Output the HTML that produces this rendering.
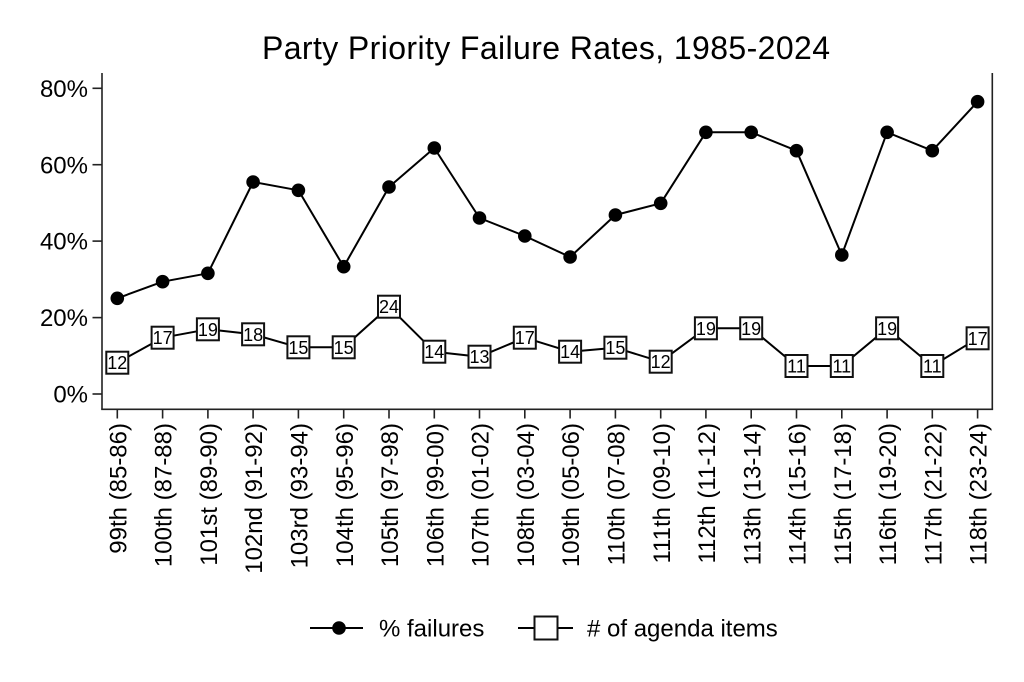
<!DOCTYPE html>
<html>
<head>
<meta charset="utf-8">
<style>
  html, body { margin: 0; padding: 0; background: #ffffff; }
  svg { display: block; }
  text { font-family: "Liberation Sans", Arial, sans-serif; fill: #000; }
</style>
</head>
<body>
<svg width="1024" height="682" viewBox="0 0 1024 682" xmlns="http://www.w3.org/2000/svg">
  <rect width="1024" height="682" fill="#ffffff"/>

  <!-- Title -->
  <text x="546" y="59" font-size="32" text-anchor="middle" textLength="568" lengthAdjust="spacing">Party Priority Failure Rates, 1985-2024</text>

  <!-- Axes frame (no top line) -->
  <g stroke="#222" stroke-width="1.6" fill="none">
    <line x1="102" y1="73" x2="102" y2="409.5"/>
    <line x1="992.3" y1="73" x2="992.3" y2="409.5"/>
    <line x1="101.2" y1="409.3" x2="993.1" y2="409.3"/>
  </g>

  <!-- Y ticks -->
  <g stroke="#222" stroke-width="1.6">
    <line x1="92.5" y1="88.3" x2="102" y2="88.3"/>
    <line x1="92.5" y1="164.7" x2="102" y2="164.7"/>
    <line x1="92.5" y1="241.1" x2="102" y2="241.1"/>
    <line x1="92.5" y1="317.6" x2="102" y2="317.6"/>
    <line x1="92.5" y1="394" x2="102" y2="394"/>
  </g>
  <g font-size="24" text-anchor="end">
    <text x="88" y="88.3" dy="0.36em">80%</text>
    <text x="88" y="164.7" dy="0.36em">60%</text>
    <text x="88" y="241.1" dy="0.36em">40%</text>
    <text x="88" y="317.6" dy="0.36em">20%</text>
    <text x="88" y="394" dy="0.36em">0%</text>
  </g>

  <!-- X ticks -->
  <g stroke="#222" stroke-width="1.6">
    <line x1="117.3" y1="409" x2="117.3" y2="418.5"/>
    <line x1="162.6" y1="409" x2="162.6" y2="418.5"/>
    <line x1="207.9" y1="409" x2="207.9" y2="418.5"/>
    <line x1="253.1" y1="409" x2="253.1" y2="418.5"/>
    <line x1="298.4" y1="409" x2="298.4" y2="418.5"/>
    <line x1="343.7" y1="409" x2="343.7" y2="418.5"/>
    <line x1="389.0" y1="409" x2="389.0" y2="418.5"/>
    <line x1="434.3" y1="409" x2="434.3" y2="418.5"/>
    <line x1="479.5" y1="409" x2="479.5" y2="418.5"/>
    <line x1="524.8" y1="409" x2="524.8" y2="418.5"/>
    <line x1="570.1" y1="409" x2="570.1" y2="418.5"/>
    <line x1="615.4" y1="409" x2="615.4" y2="418.5"/>
    <line x1="660.7" y1="409" x2="660.7" y2="418.5"/>
    <line x1="705.9" y1="409" x2="705.9" y2="418.5"/>
    <line x1="751.2" y1="409" x2="751.2" y2="418.5"/>
    <line x1="796.5" y1="409" x2="796.5" y2="418.5"/>
    <line x1="841.8" y1="409" x2="841.8" y2="418.5"/>
    <line x1="887.1" y1="409" x2="887.1" y2="418.5"/>
    <line x1="932.3" y1="409" x2="932.3" y2="418.5"/>
    <line x1="977.6" y1="409" x2="977.6" y2="418.5"/>
  </g>

  <!-- X labels (rotated) -->
  <g font-size="24" text-anchor="end">
    <text transform="translate(117.3,423) rotate(-90)" dy="0.38em">99th (85-86)</text>
    <text transform="translate(162.6,423) rotate(-90)" dy="0.38em">100th (87-88)</text>
    <text transform="translate(207.9,423) rotate(-90)" dy="0.38em">101st (89-90)</text>
    <text transform="translate(253.1,423) rotate(-90)" dy="0.38em">102nd (91-92)</text>
    <text transform="translate(298.4,423) rotate(-90)" dy="0.38em">103rd (93-94)</text>
    <text transform="translate(343.7,423) rotate(-90)" dy="0.38em">104th (95-96)</text>
    <text transform="translate(389.0,423) rotate(-90)" dy="0.38em">105th (97-98)</text>
    <text transform="translate(434.3,423) rotate(-90)" dy="0.38em">106th (99-00)</text>
    <text transform="translate(479.5,423) rotate(-90)" dy="0.38em">107th (01-02)</text>
    <text transform="translate(524.8,423) rotate(-90)" dy="0.38em">108th (03-04)</text>
    <text transform="translate(570.1,423) rotate(-90)" dy="0.38em">109th (05-06)</text>
    <text transform="translate(615.4,423) rotate(-90)" dy="0.38em">110th (07-08)</text>
    <text transform="translate(660.7,423) rotate(-90)" dy="0.38em">111th (09-10)</text>
    <text transform="translate(705.9,423) rotate(-90)" dy="0.38em">112th (11-12)</text>
    <text transform="translate(751.2,423) rotate(-90)" dy="0.38em">113th (13-14)</text>
    <text transform="translate(796.5,423) rotate(-90)" dy="0.38em">114th (15-16)</text>
    <text transform="translate(841.8,423) rotate(-90)" dy="0.38em">115th (17-18)</text>
    <text transform="translate(887.1,423) rotate(-90)" dy="0.38em">116th (19-20)</text>
    <text transform="translate(932.3,423) rotate(-90)" dy="0.38em">117th (21-22)</text>
    <text transform="translate(977.6,423) rotate(-90)" dy="0.38em">118th (23-24)</text>
  </g>

  <!-- % failures line -->
  <polyline fill="none" stroke="#000" stroke-width="2" stroke-linejoin="round"
    points="117.3,298.3 162.6,281.7 207.9,273.3 253.1,182 298.4,190.3 343.7,266.7 389.0,187 434.3,148 479.5,218 524.8,236 570.1,257 615.4,215 660.7,203.3 705.9,132.3 751.2,132.3 796.5,150.7 841.8,255 887.1,132.3 932.3,150.7 977.6,101.7"/>
  <g fill="#000">
    <circle cx="117.3" cy="298.3" r="6.8"/>
    <circle cx="162.6" cy="281.7" r="6.8"/>
    <circle cx="207.9" cy="273.3" r="6.8"/>
    <circle cx="253.1" cy="182" r="6.8"/>
    <circle cx="298.4" cy="190.3" r="6.8"/>
    <circle cx="343.7" cy="266.7" r="6.8"/>
    <circle cx="389.0" cy="187" r="6.8"/>
    <circle cx="434.3" cy="148" r="6.8"/>
    <circle cx="479.5" cy="218" r="6.8"/>
    <circle cx="524.8" cy="236" r="6.8"/>
    <circle cx="570.1" cy="257" r="6.8"/>
    <circle cx="615.4" cy="215" r="6.8"/>
    <circle cx="660.7" cy="203.3" r="6.8"/>
    <circle cx="705.9" cy="132.3" r="6.8"/>
    <circle cx="751.2" cy="132.3" r="6.8"/>
    <circle cx="796.5" cy="150.7" r="6.8"/>
    <circle cx="841.8" cy="255" r="6.8"/>
    <circle cx="887.1" cy="132.3" r="6.8"/>
    <circle cx="932.3" cy="150.7" r="6.8"/>
    <circle cx="977.6" cy="101.7" r="6.8"/>
  </g>

  <!-- # of agenda items line -->
  <polyline fill="none" stroke="#000" stroke-width="2" stroke-linejoin="round"
    points="117.3,362.7 162.6,337.7 207.9,329.3 253.1,334.3 298.4,347.3 343.7,347.3 389.0,306.7 434.3,351.7 479.5,356.7 524.8,337.7 570.1,351.7 615.4,347.7 660.7,361.7 705.9,328.3 751.2,328.3 796.5,366 841.8,366 887.1,328.3 932.3,366 977.6,338.3"/>
  <g fill="#fff" stroke="#111" stroke-width="2">
    <rect x="106.3" y="351.7" width="22" height="22"/>
    <rect x="151.6" y="326.7" width="22" height="22"/>
    <rect x="196.9" y="318.3" width="22" height="22"/>
    <rect x="242.1" y="323.3" width="22" height="22"/>
    <rect x="287.4" y="336.3" width="22" height="22"/>
    <rect x="332.7" y="336.3" width="22" height="22"/>
    <rect x="378.0" y="295.7" width="22" height="22"/>
    <rect x="423.3" y="340.7" width="22" height="22"/>
    <rect x="468.5" y="345.7" width="22" height="22"/>
    <rect x="513.8" y="326.7" width="22" height="22"/>
    <rect x="559.1" y="340.7" width="22" height="22"/>
    <rect x="604.4" y="336.7" width="22" height="22"/>
    <rect x="649.7" y="350.7" width="22" height="22"/>
    <rect x="694.9" y="317.3" width="22" height="22"/>
    <rect x="740.2" y="317.3" width="22" height="22"/>
    <rect x="785.5" y="355" width="22" height="22"/>
    <rect x="830.8" y="355" width="22" height="22"/>
    <rect x="876.1" y="317.3" width="22" height="22"/>
    <rect x="921.3" y="355" width="22" height="22"/>
    <rect x="966.6" y="327.3" width="22" height="22"/>
  </g>
  <g font-size="18" text-anchor="middle">
    <text x="117.3" y="362.7" dy="0.36em">12</text>
    <text x="162.6" y="337.7" dy="0.36em">17</text>
    <text x="207.9" y="329.3" dy="0.36em">19</text>
    <text x="253.1" y="334.3" dy="0.36em">18</text>
    <text x="298.4" y="347.3" dy="0.36em">15</text>
    <text x="343.7" y="347.3" dy="0.36em">15</text>
    <text x="389.0" y="306.7" dy="0.36em">24</text>
    <text x="434.3" y="351.7" dy="0.36em">14</text>
    <text x="479.5" y="356.7" dy="0.36em">13</text>
    <text x="524.8" y="337.7" dy="0.36em">17</text>
    <text x="570.1" y="351.7" dy="0.36em">14</text>
    <text x="615.4" y="347.7" dy="0.36em">15</text>
    <text x="660.7" y="361.7" dy="0.36em">12</text>
    <text x="705.9" y="328.3" dy="0.36em">19</text>
    <text x="751.2" y="328.3" dy="0.36em">19</text>
    <text x="796.5" y="366" dy="0.36em">11</text>
    <text x="841.8" y="366" dy="0.36em">11</text>
    <text x="887.1" y="328.3" dy="0.36em">19</text>
    <text x="932.3" y="366" dy="0.36em">11</text>
    <text x="977.6" y="338.3" dy="0.36em">17</text>
  </g>

  <!-- Legend -->
  <line x1="310" y1="628" x2="363" y2="628" stroke="#000" stroke-width="2"/>
  <circle cx="339" cy="628" r="6.8" fill="#000"/>
  <text x="379" y="628" dy="0.36em" font-size="24">% failures</text>

  <line x1="518" y1="628" x2="573" y2="628" stroke="#000" stroke-width="2"/>
  <rect x="534.5" y="616.5" width="23" height="23" fill="#fff" stroke="#111" stroke-width="2"/>
  <text x="587" y="628" dy="0.36em" font-size="24"># of agenda items</text>
</svg>
</body>
</html>
